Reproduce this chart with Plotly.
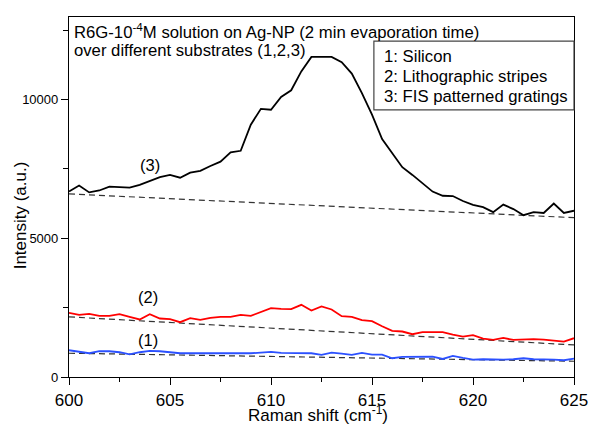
import plotly.graph_objects as go

# Raman shift axis (cm^-1), sampled every 0.5
shift = [600 + 0.5 * i for i in range(51)]

# (3) FIS patterned gratings
fis = [6680, 6900, 6650, 6720, 6860, 6840, 6820, 6920, 7060, 7200,
       7280, 7180, 7360, 7430, 7600, 7760, 8090, 8150, 9090, 9660,
       9630, 10090, 10330, 11010, 11530, 11530, 11530, 11340, 10930, 10230,
       9450, 8570, 8070, 7560, 7280, 6980, 6680, 6530, 6520, 6340,
       6200, 6120, 5940, 6210, 6050, 5830, 5940, 5910, 6250, 5910, 5990]

# (2) Lithographic stripes
litho = [2310, 2238, 2274, 2202, 2202, 2263, 2166, 2072, 2263, 2108,
         2083, 1975, 2119, 2058, 2130, 2166, 2166, 2238, 2202, 2347,
         2480, 2455, 2443, 2600, 2397, 2540, 2433, 2191, 2166, 2047,
         2011, 1830, 1661, 1639, 1541, 1614, 1614, 1614, 1531, 1458,
         1505, 1386, 1336, 1408, 1336, 1361, 1361, 1350, 1314, 1278, 1397]

# (1) Silicon
silicon = [964, 917, 856, 928, 928, 892, 819, 892, 939, 928,
           881, 856, 856, 868, 856, 856, 845, 856, 856, 868,
           903, 868, 856, 868, 856, 800, 881, 845, 794, 868,
           808, 808, 675, 722, 722, 722, 734, 650, 758, 686,
           628, 640, 628, 628, 640, 675, 640, 640, 628, 603, 664]

# dashed baselines (start, end)
base_x = [600, 625]
base_fis = [6596, 5740]
base_litho = [2166, 1155]
base_silicon = [856, 567]

x_ticks = [600, 605, 610, 615, 620, 625]
y_ticks = [0, 5000, 10000]
y_ticktext = ["0", "5000", "10000"]

legend_lines = ["1: Silicon", "2: Lithographic stripes", "3: FIS patterned gratings"]
curve_labels = ["(1)", "(2)", "(3)"]
label_x = [603.9, 603.9, 604.0]
label_y = [1325, 2877, 7640]

FONT = "Liberation Sans, Arial, sans-serif"

fig = go.Figure()
for ys in (base_fis, base_litho, base_silicon):
    fig.add_trace(go.Scatter(x=base_x, y=ys, mode="lines",
                             line=dict(color="#333333", width=1.2, dash="6px,4px"),
                             showlegend=False, hoverinfo="skip"))
fig.add_trace(go.Scatter(x=shift, y=silicon, mode="lines",
                         line=dict(color="#2b50ff", width=1.8), showlegend=False))
fig.add_trace(go.Scatter(x=shift, y=litho, mode="lines",
                         line=dict(color="#ff0000", width=1.8), showlegend=False))
fig.add_trace(go.Scatter(x=shift, y=fis, mode="lines",
                         line=dict(color="#000000", width=1.8), showlegend=False))

# plot area: x 69..577 px, y 17.3..376.7 px
L, R, T, B = 69, 577, 17.3, 376.7
W, H = R - L, B - T

def px(xp):
    return (xp - L) / W

def py(yp):
    return 1 - (yp - T) / H

ann = []
ann.append(dict(text="R6G-10<sup>-4</sup>M solution on Ag-NP (2 min evaporation time)",
                x=px(72.3), y=py(31.5), xanchor="left", yanchor="middle"))
ann.append(dict(text="over different substrates (1,2,3)",
                x=px(72.3), y=py(51), xanchor="left", yanchor="middle"))
for i, t in enumerate(legend_lines):
    ann.append(dict(text=t, x=px(384), y=py(57 + 20 * i), xanchor="left", yanchor="middle"))
for a in ann:
    a.update(xref="paper", yref="paper", showarrow=False,
             font=dict(family=FONT, size=16.7, color="black"))
for t, xv, yv in zip(curve_labels, label_x, label_y):
    ann.append(dict(text=t, x=xv, y=yv, xref="x", yref="y", showarrow=False,
                    xanchor="center", yanchor="middle",
                    font=dict(family=FONT, size=16.5, color="black")))
ann.append(dict(text="Raman shift (cm<sup>-1</sup>)", x=px(319), y=py(414),
                xref="paper", yref="paper", showarrow=False, xanchor="center", yanchor="middle",
                font=dict(family=FONT, size=17, color="black")))
ann.append(dict(text="Intensity (a.u.)", x=px(20), y=py(215), textangle=-90,
                xref="paper", yref="paper", showarrow=False, xanchor="center", yanchor="middle",
                font=dict(family=FONT, size=17, color="black")))

fig.update_layout(
    width=600, height=430,
    margin=dict(l=L, r=600 - R, t=T, b=430 - B, pad=0),
    paper_bgcolor="white", plot_bgcolor="white",
    annotations=ann,
    shapes=[dict(type="rect", xref="paper", yref="paper",
                 x0=px(375.7), x1=1.0, y0=py(110), y1=py(41.3),
                 line=dict(color="#444444", width=1.2), fillcolor="rgba(0,0,0,0)")],
    xaxis=dict(range=[600, 625], tickvals=x_ticks,
               ticks="outside", ticklen=7, tickcolor="black", tickwidth=1,
               showline=True, linecolor="black", linewidth=1.2, mirror=True,
               showgrid=False, zeroline=False,
               tickfont=dict(family=FONT, size=17, color="black"),
               minor=dict(tickvals=[602.5, 607.5, 612.5, 617.5, 622.5], ticks="outside",
                          ticklen=4, tickcolor="black", showgrid=False)),
    yaxis=dict(range=[0, 12970], tickvals=y_ticks, ticktext=y_ticktext,
               ticks="outside", ticklen=7, tickcolor="black", tickwidth=1,
               showline=True, linecolor="black", linewidth=1.2, mirror=True,
               showgrid=False, zeroline=False,
               tickfont=dict(family=FONT, size=13, color="black"),
               minor=dict(tickvals=[2500, 7500, 12500], ticks="outside",
                          ticklen=5, tickcolor="black", showgrid=False)),
)

fig.write_html("out.html", config={"displayModeBar": False},
               post_script="document.body.style.margin='0';document.body.style.overflow='hidden';")
